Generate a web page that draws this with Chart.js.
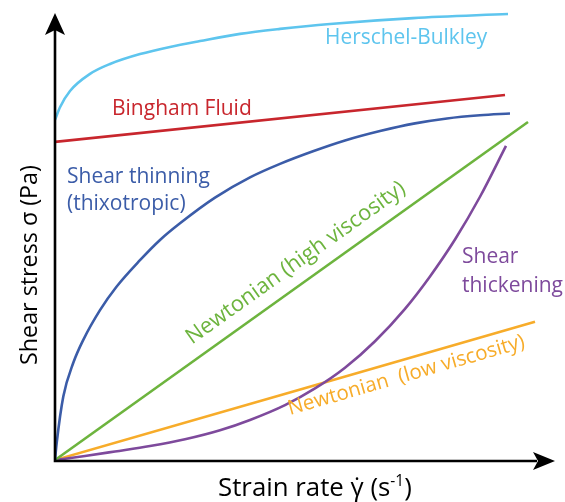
<!DOCTYPE html>
<html>
<head>
<title>Shear stress vs strain rate</title>
<script src="https://cdn.jsdelivr.net/npm/chart.js@4.4.0/dist/chart.umd.min.js"></script>
<style>
body { margin: 0; background: #fff; }
</style>
</head>
<body>
<canvas id="myChart" width="565" height="502"></canvas>
<script>
// strain rate (x) and shear stress (y), arbitrary units on a 0-100 scale
var herschelX = [0, 1, 3, 7, 11, 17, 23, 29, 37, 45, 55, 71.6, 90.6];
var herschelY = [75.6, 78.4, 82.0, 85.8, 88.0, 90.2, 91.8, 93.1, 94.7, 95.8, 96.9, 98.2, 99.1];
var binghamX = [0, 90];
var binghamY = [70.7, 81.1];
var thinningX = [0, 0.34, 1.66, 3.66, 5.66, 9, 12.3, 17, 21, 25, 32, 39, 45, 51.6, 58, 65, 72, 78.4, 85, 91];
var thinningY = [0, 3.8, 14.1, 21.6, 26.7, 33.3, 38.5, 44.4, 48.9, 52.6, 58.3, 62.8, 65.8, 68.6, 71, 73.1, 74.8, 75.9, 76.6, 77];
var newtonHighX = [0, 94.6];
var newtonHighY = [0, 75.1];
var thickeningX = [0, 6, 12, 19, 26, 33, 39, 46, 52, 58, 64, 70, 75, 80, 85, 90.2];
var thickeningY = [0, 0.9, 1.9, 3.1, 4.6, 6.6, 8.9, 12.2, 15.9, 20.5, 26.4, 33.6, 40.8, 49, 58.5, 69.8];
var newtonLowX = [0, 96];
var newtonLowY = [0, 30.7];

var colors = {
    herschel: '#5ec5ee',
    bingham: '#c8262d',
    thinning: '#3b5ca8',
    newtonHigh: '#6db43e',
    thickening: '#7e4a9c',
    newtonLow: '#f7ac2a'
};

// curve labels, anchored at the left end of the text baseline (data units);
// font size is set so that the text "ref" (or the label itself) is "width" px wide
var curveLabels = [
    {text: 'Herschel-Bulkley', color: colors.herschel, x: 54, y: 92.4, width: 162},
    {text: 'Bingham Fluid', color: colors.bingham, x: 11.4, y: 76.7, width: 140},
    {text: 'Shear thinning', color: colors.thinning, x: 2.4, y: 61.6, width: 143},
    {text: '(thixotropic)', color: colors.thinning, x: 2.4, y: 55.6, width: 143, ref: 'Shear thinning'},
    {text: 'Shear', color: colors.thickening, x: 81.4, y: 43.8, width: 101, ref: 'thickening'},
    {text: 'thickening', color: colors.thickening, x: 81.4, y: 37.3, width: 101},
    {text: 'Newtonian (high viscosity)', color: colors.newtonHigh, x: 27.4, y: 25.6, width: 264, along: 3},
    {text: 'Newtonian  (low viscosity)', color: colors.newtonLow, x: 47, y: 10, width: 245, along: 5}
];

var FONT = '"Open Sans", "DejaVu Sans", sans-serif';

function pairs(xs, ys) {
    return xs.map(function(x, i) { return {x: x, y: ys[i]}; });
}

function fitSize(ctx, text, width) {
    ctx.font = '20px ' + FONT;
    return 20 * width / ctx.measureText(text).width;
}

function curve(label, xs, ys, color) {
    return {
        label: label,
        data: pairs(xs, ys),
        borderColor: color,
        borderWidth: 2.6,
        pointRadius: 0,
        fill: false,
        cubicInterpolationMode: 'monotone'
    };
}

var annotate = {
    id: 'annotate',
    afterDatasetsDraw: function(chart) {
        var ctx = chart.ctx;
        var a = chart.chartArea;
        var xs = chart.scales.x, ys = chart.scales.y;
        ctx.save();

        // axes with arrow heads
        ctx.strokeStyle = '#000';
        ctx.fillStyle = '#000';
        ctx.lineWidth = 2.6;
        ctx.beginPath();
        ctx.moveTo(a.left, a.top + 18);
        ctx.lineTo(a.left, a.bottom + 1);
        ctx.lineTo(a.right - 18, a.bottom + 1);
        ctx.stroke();
        ctx.beginPath();
        ctx.moveTo(a.left, a.top + 3);
        ctx.lineTo(a.left + 10, a.top + 25);
        ctx.lineTo(a.left, a.top + 20);
        ctx.lineTo(a.left - 10, a.top + 25);
        ctx.closePath();
        ctx.fill();
        ctx.beginPath();
        ctx.moveTo(a.right, a.bottom + 1);
        ctx.lineTo(a.right - 22, a.bottom + 10);
        ctx.lineTo(a.right - 17, a.bottom + 1);
        ctx.lineTo(a.right - 22, a.bottom - 8);
        ctx.closePath();
        ctx.fill();

        // curve labels
        ctx.textBaseline = 'alphabetic';
        ctx.textAlign = 'left';
        curveLabels.forEach(function(l) {
            var size = fitSize(ctx, l.ref || l.text, l.width);
            ctx.font = size.toFixed(1) + 'px ' + FONT;
            ctx.fillStyle = l.color;
            var px = xs.getPixelForValue(l.x), py = ys.getPixelForValue(l.y);
            ctx.save();
            ctx.translate(px, py);
            if (l.along !== undefined) {
                var pts = chart.getDatasetMeta(l.along).data;
                var p0 = pts[0], p1 = pts[pts.length - 1];
                ctx.rotate(Math.atan2(p1.y - p0.y, p1.x - p0.x));
            }
            ctx.fillText(l.text, 0, 0);
            ctx.restore();
        });

        // axis titles
        ctx.fillStyle = '#000';
        var main = 'Strain rate \u03b3\u0307 (s', sup = '-1', close = ')';
        ctx.font = '20px ' + FONT;
        var w20 = ctx.measureText(main + close).width;
        ctx.font = '12px ' + FONT;
        w20 += ctx.measureText(sup).width;
        var s = 20 * 194 / w20;
        var x0 = 218, y0 = 496;
        ctx.font = s.toFixed(1) + 'px ' + FONT;
        ctx.fillText(main, x0, y0);
        x0 += ctx.measureText(main).width;
        ctx.font = (s * 0.6).toFixed(1) + 'px ' + FONT;
        ctx.fillText(sup, x0, y0 - s * 0.4);
        x0 += ctx.measureText(sup).width;
        ctx.font = s.toFixed(1) + 'px ' + FONT;
        ctx.fillText(close, x0, y0);

        var ytitle = 'Shear stress \u03c3 (Pa)';
        var ys2 = fitSize(ctx, ytitle, 200);
        ctx.font = ys2.toFixed(1) + 'px ' + FONT;
        ctx.translate(37, 365);
        ctx.rotate(-Math.PI / 2);
        ctx.fillText(ytitle, 0, 0);
        ctx.restore();
    }
};

var ctx = document.getElementById('myChart').getContext('2d');
var myChart = new Chart(ctx, {
    type: 'line',
    data: {
        datasets: [
            curve('Herschel-Bulkley', herschelX, herschelY, colors.herschel),
            curve('Bingham Fluid', binghamX, binghamY, colors.bingham),
            curve('Shear thinning', thinningX, thinningY, colors.thinning),
            curve('Newtonian (high viscosity)', newtonHighX, newtonHighY, colors.newtonHigh),
            curve('Shear thickening', thickeningX, thickeningY, colors.thickening),
            curve('Newtonian (low viscosity)', newtonLowX, newtonLowY, colors.newtonLow)
        ]
    },
    options: {
        responsive: false,
        animation: false,
        layout: {padding: {left: 55, right: 10, top: 10, bottom: 42}},
        plugins: {legend: {display: false}, tooltip: {enabled: false}},
        scales: {
            x: {type: 'linear', min: 0, max: 100, display: false},
            y: {type: 'linear', min: 0, max: 100, display: false}
        }
    },
    plugins: [annotate]
});
</script>
</body>
</html>
